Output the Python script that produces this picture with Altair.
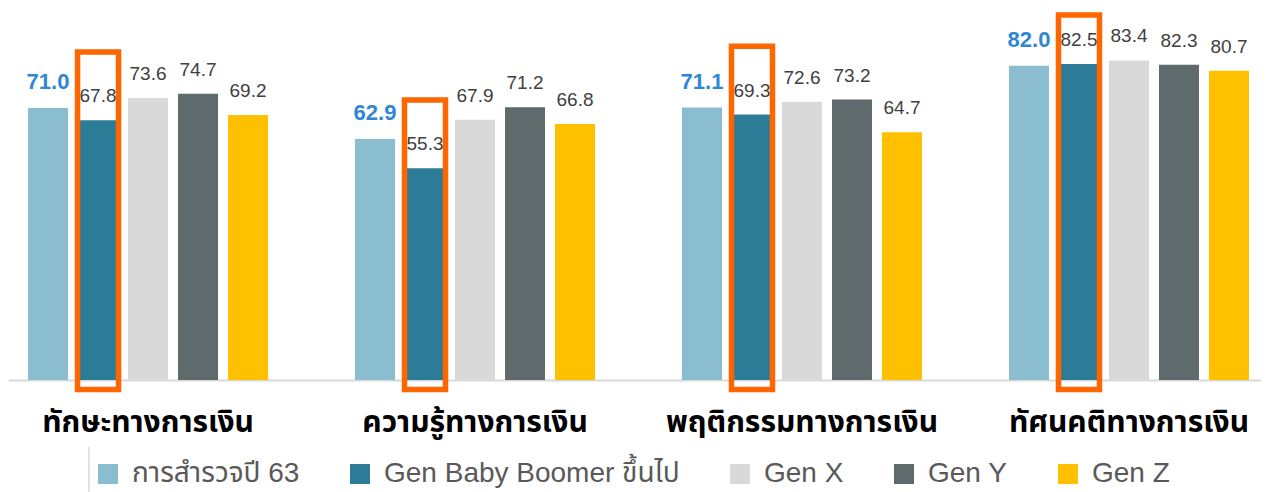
import altair as alt
import pandas as pd

categories = ["ทักษะทางการเงิน", "ความรู้ทางการเงิน", "พฤติกรรมทางการเงิน", "ทัศนคติทางการเงิน"]
series = ["การสำรวจปี 63", "Gen Baby Boomer ขึ้นไป", "Gen X", "Gen Y", "Gen Z"]
survey63 = [71.0, 62.9, 71.1, 82.0]
boomer = [67.8, 55.3, 69.3, 82.5]
gen_x = [73.6, 67.9, 72.6, 83.4]
gen_y = [74.7, 71.2, 73.2, 82.3]
gen_z = [69.2, 66.8, 64.7, 80.7]
colors = ["#8BBDD1", "#2C7B97", "#D9D9D9", "#5E6A6B", "#FFC000"]

rows = []
for s, vals in zip(series, [survey63, boomer, gen_x, gen_y, gen_z]):
    for c, v in zip(categories, vals):
        rows.append({"cat": c, "series": s, "value": v})
df = pd.DataFrame(rows)

THAI = "Noto Sans Thai, Noto Sans Thai UI, Noto Sans, sans-serif"
LAT = "Liberation Sans, Noto Sans Thai, sans-serif"
YMAX = 97.1

x = alt.X("cat:N", sort=categories, title=None,
          scale=alt.Scale(domain=categories, paddingInner=0.266, paddingOuter=0.049,
                          align=0.625, round=False),
          axis=alt.Axis(labelAngle=0, labelFontSize=30, labelFontWeight="bold",
                        labelColor="#000000", labelFont=THAI, labelLimit=0,
                        domainColor="#D9D9D9", domainWidth=2, ticks=False,
                        labelPadding=27, grid=False))
xoff = alt.XOffset("series:N", sort=series,
                   scale=alt.Scale(domain=series, paddingInner=0.2, paddingOuter=0, round=False))
y = alt.Y("value:Q", scale=alt.Scale(domain=[0, YMAX]), axis=None)

base = alt.Chart(df)

bars = base.mark_bar().encode(
    x=x, xOffset=xoff, y=y,
    color=alt.Color("series:N", sort=series,
                    scale=alt.Scale(domain=series, range=colors),
                    legend=alt.Legend(orient="none", legendX=86, legendY=452,
                                      direction="horizontal", columns=5, title=None,
                                      symbolType="square", symbolSize=400,
                                      symbolStrokeWidth=0, labelFontSize=28,
                                      labelColor="#595959", labelFont=LAT, labelLimit=0,
                                      columnPadding=46, labelOffset=10)),
)

txt_blue = base.transform_filter(alt.datum.series == series[0]).mark_text(
    dy=-19, baseline="alphabetic", fontSize=22, fontWeight="bold",
    color="#2F86D3", font=LAT
).encode(x=x, xOffset=xoff, y=y, text=alt.Text("value:Q", format=".1f"))

txt_other = base.transform_filter(alt.datum.series != series[0]).mark_text(
    dy=-18, baseline="alphabetic", fontSize=19, color="#404040", font=LAT
).encode(x=x, xOffset=xoff, y=y, text=alt.Text("value:Q", format=".1f"))

boxes = base.transform_filter(alt.datum.series == series[1]).transform_calculate(
    box_top="min(datum.value + 17.8, 95.3)"
).mark_rect(fillOpacity=0, stroke="#FF6600", strokeWidth=5.5, width=41).encode(
    x=x, xOffset=xoff,
    y=alt.Y("box_top:Q", scale=alt.Scale(domain=[0, YMAX]), axis=None),
    y2=alt.value(381.5)
)

sep = base.transform_filter(alt.datum.series == series[0]).transform_filter(
    alt.datum.cat == categories[0]
).mark_rule(color="#D9D9D9", strokeWidth=1.5).encode(
    x=alt.value(81), y=alt.value(439), y2=alt.value(484)
)

chart = alt.layer(bars, txt_blue, txt_other, boxes, sep).properties(
    width=1253, height=372, padding=0
).configure(background="white").configure_view(stroke=None)

chart.save("out.html", embed_options={"renderer": "svg", "actions": False})
